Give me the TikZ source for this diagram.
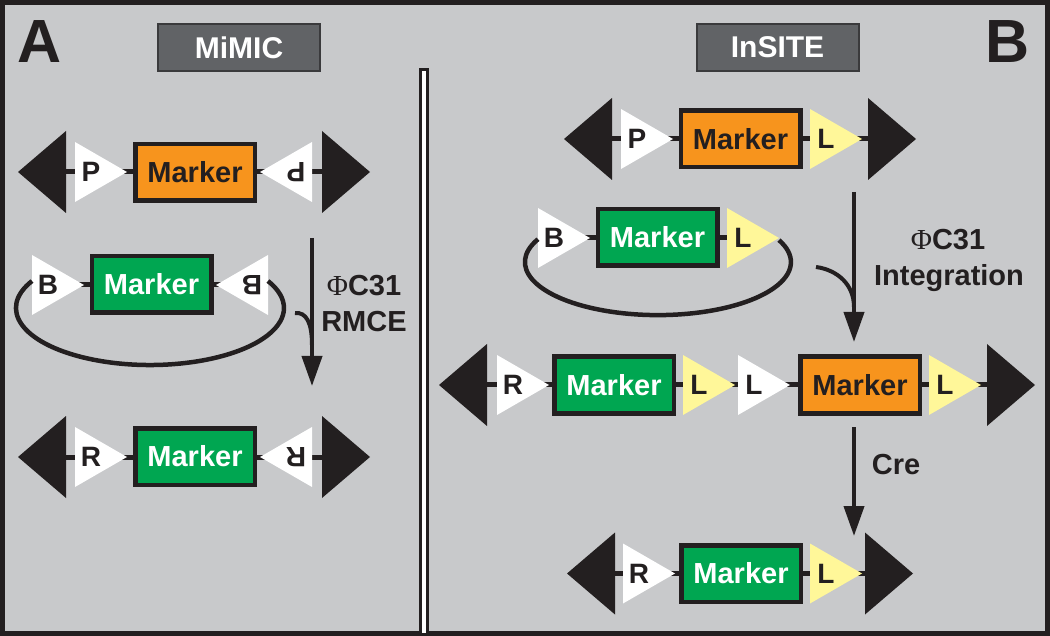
\documentclass[tikz,border=0pt]{standalone}
\usepackage{fontspec}
\setmainfont{Liberation Sans}
\newfontfamily\phifont{Liberation Serif}
\usepackage{tikz}
\usetikzlibrary{arrows.meta,calc,backgrounds}

\definecolor{panelgray}{RGB}{200,201,203}
\definecolor{titlegray}{RGB}{97,99,102}
\definecolor{titleline}{RGB}{58,58,60}
\definecolor{mkorange}{RGB}{247,148,29}
\definecolor{mkgreen}{RGB}{0,166,81}
\definecolor{lpyellow}{RGB}{255,247,153}
\definecolor{ink}{RGB}{35,31,32}

% black end of a row: name, base x, y, direction angle (0 right, 180 left)
\newcommand{\rowend}[4]{%
  \fill[ink] (#2,#3-41) -- ({#2+48*cos(#4)},#3) -- (#2,#3+41) -- cycle;
  \coordinate (#1) at (#2,#3);}
% att site: name, base x, y, direction angle, fill, letter
\newcommand{\attsite}[6]{%
  \fill[#5] (#2,#3-30) -- ({#2+52*cos(#4)},#3) -- (#2,#3+30) -- cycle;
  \node[sitetext, rotate=#4] (#1) at ({#2+16*cos(#4)},#3) {#6};}

\begin{document}
\begin{tikzpicture}[
    x=1pt, y=-1pt,
    sitetext/.style={inner sep=0pt, text=ink, font=\fontsize{28pt}{30pt}\selectfont\bfseries},
    marker/.style={draw=ink, line width=4.5pt, minimum width=119.5pt, minimum height=56.5pt,
                   inner sep=0pt, font=\fontsize{29pt}{31pt}\selectfont\bfseries},
    titlebox/.style={draw=titleline, line width=2pt, fill=titlegray, text=white,
                     minimum width=162pt, minimum height=47pt, inner sep=0pt,
                     font=\fontsize{30pt}{32pt}\selectfont\bfseries},
    panelletter/.style={inner sep=0pt, text=ink, font=\fontsize{61pt}{61pt}\selectfont\bfseries},
    note/.style={inner sep=0pt, anchor=base, text=ink, font=\fontsize{29pt}{31pt}\selectfont\bfseries},
    flow/.style={-{Triangle[length=30pt,width=20pt]}, line width=4pt, draw=ink},
    merge/.style={line width=4pt, draw=ink},
    backbone/.style={line width=5pt, draw=ink},
    loopline/.style={line width=4.5pt, draw=ink}
]
\useasboundingbox (0,0) rectangle (1050,636);

% frame
\begin{scope}[on background layer]
\draw[line width=5pt, draw=ink, fill=panelgray] (2.5,2.5) rectangle (1047.5,633.5);
\end{scope}
\draw[line width=3pt, draw=ink, fill=white] (420,70) rectangle (427.5,634);

% titles
\node[panelletter] (labA) at (40,42) {A};
\node[panelletter] (labB) at (1008,42) {B};
\node[titlebox] (mimic) at (239,47.5) {MiMIC};
\node[titlebox] (insite) at (777.5,47.5) {InSITE};

% ---- A: MiMIC ----
% row 1
\rowend{a1l}{66}{172}{180}
\rowend{a1r}{322}{172}{0}
\attsite{pA1l}{75}{172}{0}{white}{P}
\node[marker, fill=mkorange, text=ink] (mA1) at (195,172.5) {Marker};
\attsite{pA1r}{312}{172}{180}{white}{P}

% row 2 (donor loop)
\attsite{bA2l}{32}{285}{0}{white}{B}
\node[marker, fill=mkgreen, text=white] (mA2) at (151.5,284.5) {Marker};
\attsite{bA2r}{268}{285}{180}{white}{B}
\draw[loopline] (32,281) arc[start angle=208.3, end angle=-28.3, x radius=134, y radius=57];

% row 3
\rowend{a3l}{66}{457}{180}
\rowend{a3r}{322}{457}{0}
\attsite{rA3l}{75}{457}{0}{white}{R}
\node[marker, fill=mkgreen, text=white] (mA3) at (195,456.5) {Marker};
\attsite{rA3r}{312}{457}{180}{white}{R}

% RMCE arrow
\coordinate (arA1) at (312,238);
\coordinate (arA2) at (312,386);
\coordinate (mgA1) at (295,313);
\coordinate (mgA2) at (312,345);
\draw[flow] (arA1) -- (arA2);
\draw[merge] (mgA1) .. controls (306,312) and (312,322) .. (mgA2);
\node[note] (phiA) at (364,296) {{\phifont\mdseries Φ}C31};
\node[note] (rmce) at (364,332) {RMCE};

% ---- B: InSITE ----
% row 1
\rowend{b1l}{612}{139}{180}
\rowend{b1r}{868}{139}{0}
\attsite{pB1}{621}{139}{0}{white}{P}
\node[marker, fill=mkorange, text=ink] (mB1) at (740.5,139) {Marker};
\attsite{lB1}{810}{139}{0}{lpyellow}{L}

% row 2 (donor loop)
\attsite{bB2}{538}{238}{0}{white}{B}
\node[marker, fill=mkgreen, text=white] (mB2) at (657.5,237.5) {Marker};
\attsite{lB2}{727}{238}{0}{lpyellow}{L}
\draw[loopline] (538,239.2) arc[start angle=205.6, end angle=-24.5, x radius=133, y radius=53];

% row 3
\rowend{b3l}{487}{385}{180}
\rowend{b3r}{987}{385}{0}
\attsite{rB3}{497}{385}{0}{white}{R}
\node[marker, fill=mkgreen, text=white] (mB3a) at (614,385) {Marker};
\attsite{lB3a}{683}{385}{0}{lpyellow}{L}
\attsite{lB3b}{738}{385}{0}{white}{L}
\node[marker, fill=mkorange, text=ink] (mB3b) at (860,385) {Marker};
\attsite{lB3c}{929}{385}{0}{lpyellow}{L}

% row 4
\rowend{b4l}{615}{573.5}{180}
\rowend{b4r}{865}{573.5}{0}
\attsite{rB4}{623}{573.5}{0}{white}{R}
\node[marker, fill=mkgreen, text=white] (mB4) at (741,573.5) {Marker};
\attsite{lB4}{810}{573.5}{0}{lpyellow}{L}

% integration and Cre arrows
\coordinate (arB1) at (854,192);
\coordinate (arB2) at (854,342);
\coordinate (mgB1) at (816,267);
\coordinate (mgB2) at (854,307);
\coordinate (arB3) at (854,427);
\coordinate (arB4) at (854,536);
\draw[flow] (arB1) -- (arB2);
\draw[merge] (mgB1) .. controls (838,270) and (854,285) .. (mgB2);
\draw[flow] (arB3) -- (arB4);
\node[note] (phiB) at (948,250) {{\phifont\mdseries Φ}C31};
\node[note] (integ) at (949,286) {Integration};
\node[note] (cre) at (896,474) {Cre};

% backbones under the elements
\begin{scope}[on background layer]
\draw[backbone] (a1l) -- (a1r);
\draw[backbone] (bA2l) -- (bA2r);
\draw[backbone] (a3l) -- (a3r);
\draw[backbone] (b1l) -- (b1r);
\draw[backbone] (bB2) -- (lB2);
\draw[backbone] (b3l) -- (b3r);
\draw[backbone] (b4l) -- (b4r);
\end{scope}

\end{tikzpicture}
\end{document}
